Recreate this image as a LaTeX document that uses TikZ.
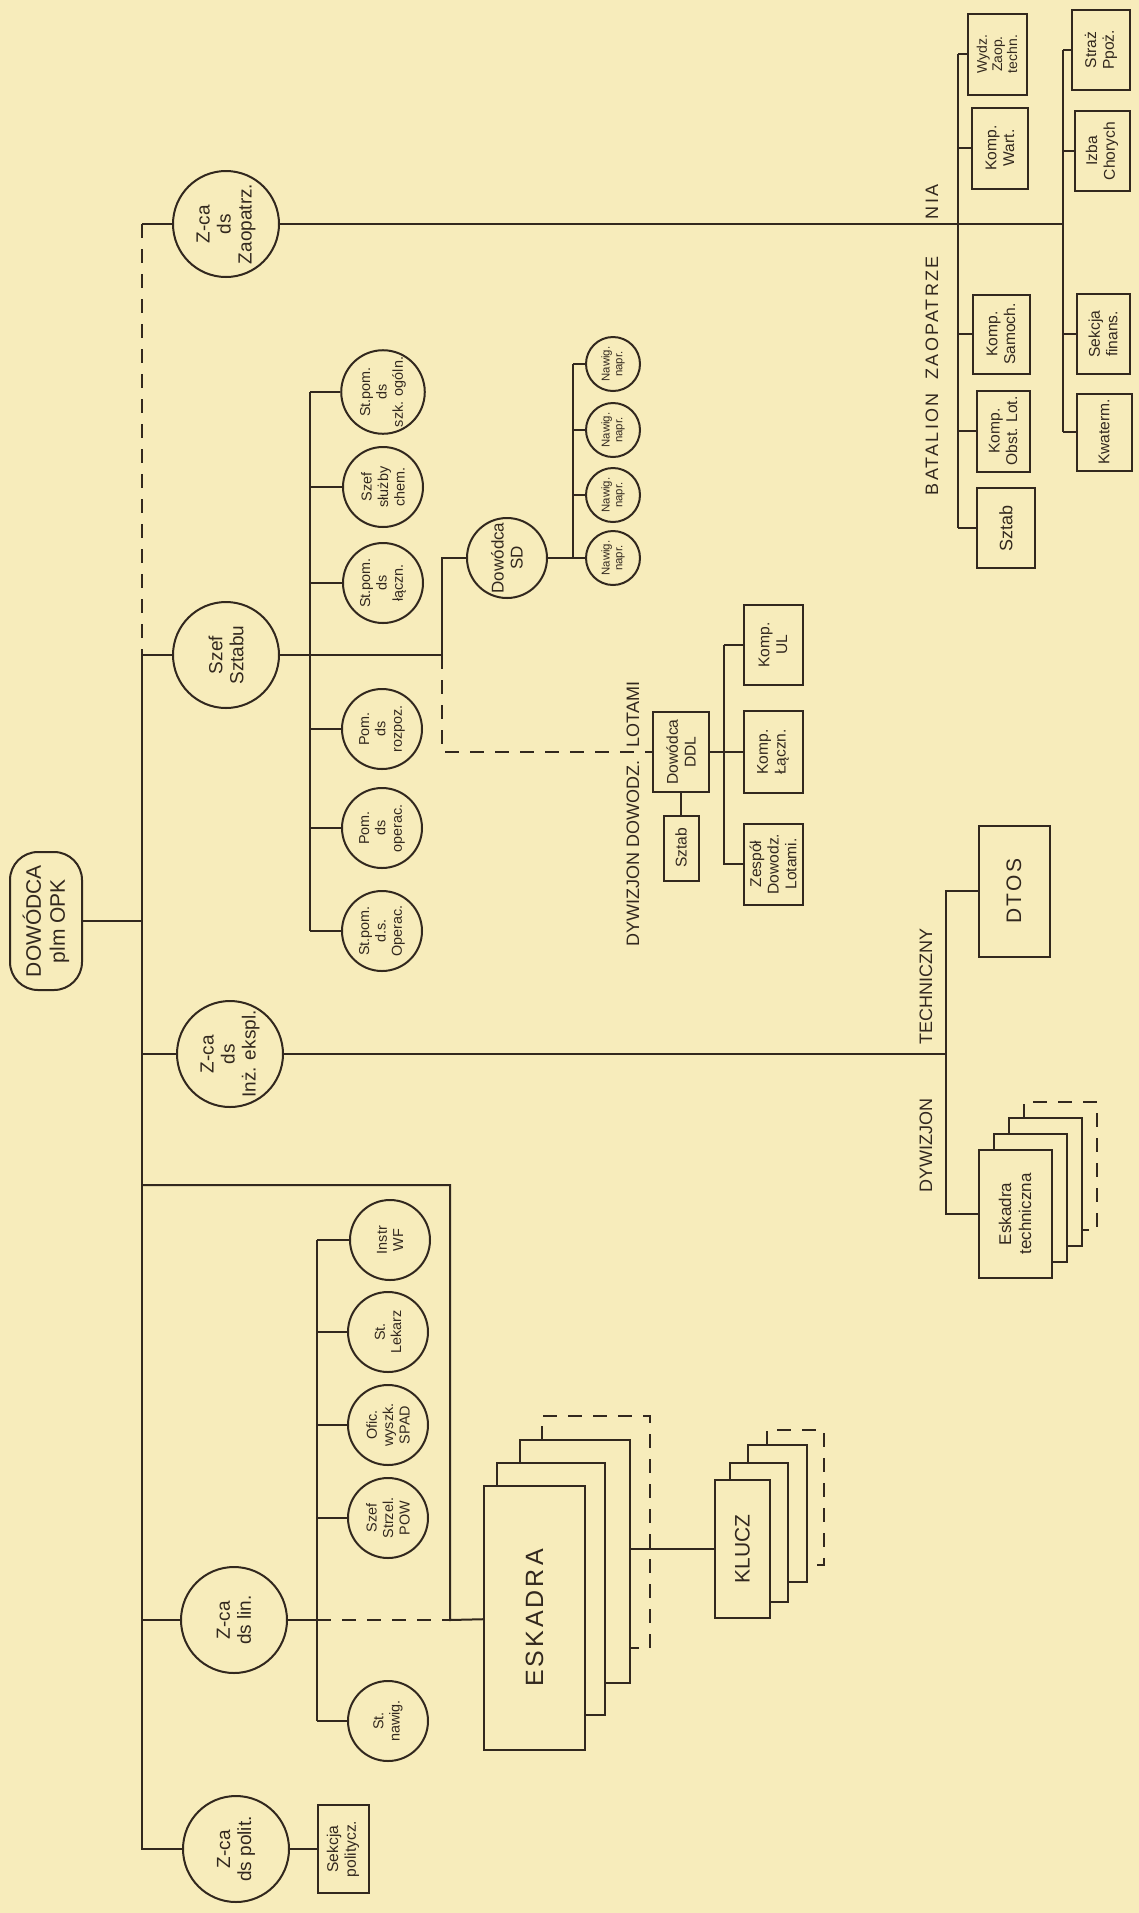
\documentclass[tikz,border=0pt]{standalone}
\usepackage{fontspec}
\setmainfont{Liberation Sans}
\newfontfamily\spcd[LetterSpace=12]{Liberation Sans}
\usetikzlibrary{positioning}
\definecolor{paper}{RGB}{247,236,187}
\definecolor{ink}{RGB}{50,40,30}

\begin{document}
\begin{tikzpicture}[x=0.5pt,y=-0.5pt,line width=1pt,color=ink]
\tikzset{big/.style={circle,draw,minimum size=53pt,inner sep=0pt,align=center,rotate=90,font=\fontsize{9.5}{10.5}\selectfont},
         mid/.style={circle,draw,minimum size=40pt,inner sep=0pt,align=center,rotate=90,font=\fontsize{7.2}{8.2}\selectfont},
         sml/.style={circle,draw,minimum size=27pt,inner sep=0pt,align=center,rotate=90,font=\fontsize{5.7}{6.4}\selectfont},
         bx/.style={rectangle,draw,inner sep=1pt,align=center,rotate=90,font=\fontsize{7.8}{8.8}\selectfont},
         lab/.style={inner sep=0pt,rotate=90,font=\fontsize{9}{10}\selectfont},
         dsh/.style={dash pattern=on 7pt off 5.5pt}}
\fill[paper] (0,0) rectangle (1139,1913);
\useasboundingbox (0,0) rectangle (1139,1913);
\node[bx,rounded corners=14pt,minimum width=69pt,minimum height=36pt,font=\fontsize{10.5}{12}\selectfont] (dow) at (46,921) {DOWÓDCA\\plm OPK};
\node[big] (zaop) at (226,224) {Z-ca\\ds\\Zaopatrz.};
\node[big] (szef) at (226,655) {Szef\\Sztabu};
\node[big] (inz) at (230,1054) {Z-ca\\ds\\Inż. ekspl.};
\node[big] (lin) at (234,1620) {Z-ca\\ds lin.};
\node[big] (polit) at (236,1849) {Z-ca\\ds polit.};
\node[bx,minimum width=44pt,minimum height=25.5pt] (sekp) at (343,1849) {Sekcja\\politycz.};
\coordinate (tk) at (142,224);
\draw (tk) -- (zaop);
\draw[dsh] (tk) -- (tk |- szef);
\draw (tk |- szef) -- (tk |- polit) -- (polit);
\draw (tk |- szef) -- (szef);
\draw (dow) -- (tk |- dow);
\draw (tk |- inz) -- (inz);
\draw (tk |- lin) -- (lin);
\draw (polit) -- (sekp);

\node[mid] (szk) at (383,392) {St.pom.\\ds\\szk. ogóln.};
\node[mid] (chem) at (383,487) {Szef\\służby\\chem.};
\node[mid] (lacz) at (383,583) {St.pom.\\ds\\łączn.};
\node[mid] (rozp) at (382,729) {Pom.\\ds\\rozpoz.};
\node[mid] (oprc) at (382,828) {Pom.\\ds\\operac.};
\node[mid] (stop) at (382,931) {St.pom.\\d.s.\\Operac.};
\coordinate (sb) at (310,392);
\draw (sb) -- (sb |- stop);
\foreach \c in {szk,chem,lacz,rozp,oprc,stop}
  \draw (sb |- \c) -- (\c);

\node[mid,font=\fontsize{8.5}{9.5}\selectfont] (sd) at (507,558) {Dowódca\\SD};
\node[sml] (nv1) at (613,364) {Nawig.\\napr.};
\node[sml] (nv2) at (613,430) {Nawig.\\napr.};
\node[sml] (nv3) at (613,495) {Nawig.\\napr.};
\node[sml] (nv4) at (613,558) {Nawig.\\napr.};
\coordinate (nb) at (573,364);
\draw (nb) -- (nb |- nv4);
\draw (sd) -- (nv4);
\foreach \c in {nv1,nv2,nv3}
  \draw (nb |- \c) -- (\c);

\node[bx,minimum width=40pt,minimum height=28pt] (ddl) at (681,752) {Dowódca\\DDL};
\node[bx,minimum width=32.5pt,minimum height=17.5pt] (ddls) at (681,848) {Sztab};
\node[bx,minimum width=40pt,minimum height=29.5pt] (kul) at (773,645) {Komp.\\UL};
\node[bx,minimum width=41pt,minimum height=29.5pt] (klacz) at (773,752) {Komp.\\Łączn.};
\node[bx,minimum width=40.5pt,minimum height=29.5pt] (zesp) at (773,864) {Zespół\\Dowodz.\\Lotami.};
\coordinate (sdk) at (442,558);
\coordinate (ub) at (724,645);
\draw (szef) -- (sdk |- szef) -- (sdk) -- (sd);
\draw[dsh] (sdk |- szef) -- (sdk |- ddl) -- (ddl);
\draw (ddl) -- (ddls);
\draw (ddl) -- (klacz);
\draw (ub) -- (kul);
\draw (ub) -- (ub |- zesp) -- (zesp);
\node[lab,anchor=west] (dl1) at (633,947) {DYWIZJON DOWODZ.};
\node[lab,anchor=west] (dl2) at (633,748) {LOTAMI};

\node[bx,minimum width=65.5pt,minimum height=35.5pt,font=\spcd\fontsize{10.5}{12}\selectfont] (dtos) at (1014,891) {DTOS};
\node[bx,minimum width=64pt,minimum height=36.5pt,font=\fontsize{8.5}{10}\selectfont] (eskt) at (1015,1214) {Eskadra\\techniczna};
\coordinate (tb) at (946,891);
\draw (inz) -- (tb |- inz);
\draw (dtos) -- (tb) -- (tb |- eskt) -- (eskt);
\foreach \k/\st in {1/solid,2/solid,3/dsh}
  \draw[\st] (979+15*\k,1166-16*\k) -- ++(0,-16) -- ++(73,0) -- ++(0,128) -- ++(-15,0);
\node[lab,anchor=west] (dt1) at (926,1193) {DYWIZJON};
\node[lab,anchor=west] (dt2) at (926,1045) {TECHNICZNY};

\node[bx,minimum width=40.5pt,minimum height=29.5pt,font=\fontsize{7}{7.6}\selectfont] (wydz) at (997,54) {Wydz.\\Zaop.\\techn.};
\node[bx,minimum width=40.5pt,minimum height=28pt] (wart) at (1000,148) {Komp.\\Wart.};
\node[bx,minimum width=39.5pt,minimum height=28.5pt] (samo) at (1001,334) {Komp.\\Samoch.};
\node[bx,minimum width=40.5pt,minimum height=26.5pt] (obst) at (1003,431) {Komp.\\Obst. Lot.};
\node[bx,minimum width=40pt,minimum height=29pt,font=\fontsize{9}{10}\selectfont] (bsz) at (1006,528) {Sztab};
\node[bx,minimum width=40pt,minimum height=29pt] (straz) at (1101,50) {Straż\\Ppoż.};
\node[bx,minimum width=40pt,minimum height=27.5pt] (izba) at (1102,151) {Izba\\Chorych};
\node[bx,minimum width=40pt,minimum height=26.5pt] (sfin) at (1103,334) {Sekcja\\finans.};
\node[bx,minimum width=38.5pt,minimum height=27.5pt] (kwat) at (1104,432) {Kwaterm.};
\coordinate (lb) at (958,54);
\coordinate (rb) at (1063,50);
\draw (zaop) -- (rb |- zaop);
\draw (lb) -- (lb |- bsz);
\foreach \c in {wydz,wart,samo,obst,bsz}
  \draw (lb |- \c) -- (\c);
\draw (rb) -- (rb |- kwat);
\foreach \c in {straz,izba,sfin,kwat}
  \draw (rb |- \c) -- (\c);
\node[lab,anchor=west,font=\spcd\fontsize{9}{10}\selectfont] (bt1) at (932,496) {BATALION\ \ ZAOPATRZE};
\node[lab,anchor=west,font=\spcd\fontsize{9}{10}\selectfont] (bt2) at (932,220) {NIA};

\node[mid] (instr) at (390,1240) {Instr\\WF};
\node[mid] (lek) at (388,1332) {St.\\Lekarz};
\node[mid] (ofic) at (388,1425) {Ofic.\\wyszk.\\SPAD};
\node[mid] (strz) at (388,1518) {Szef\\Strzel.\\POW};
\node[mid] (snaw) at (388,1721) {St.\\nawig.};
\coordinate (nwb) at (317,1240);
\draw (nwb) -- (nwb |- snaw);
\foreach \c in {instr,lek,ofic,strz,snaw}
  \draw (nwb |- \c) -- (\c);
\node[bx,minimum width=132pt,minimum height=50.5pt,font=\spcd\fontsize{12.5}{14}\selectfont] (esk) at (534.5,1618) {ESKADRA};
\node[bx,minimum width=69pt,minimum height=27.5pt,font=\fontsize{10.5}{12}\selectfont] (klucz) at (742.5,1549) {KLUCZ};
\coordinate (ev) at (450,1185);
\coordinate (ek) at (630,1549);
\draw (tk |- ev) -- (ev) -- (ev |- lin) -- (esk);
\draw (lin) -- (nwb |- lin);
\draw[dsh] (nwb |- lin) -- (ev |- lin);
\draw (497,1486) -- (497,1463) -- (605,1463) -- (605,1715) -- (585,1715);
\draw (520,1463) -- (520,1440) -- (630,1440) -- (630,1683) -- (605,1683);
\draw[dsh] (542,1440) -- (542,1416) -- (650,1416) -- (650,1648) -- (630,1648);
\draw (ek) -- (klucz);
\draw (730,1480) -- (730,1463) -- (788,1463) -- (788,1602) -- (770,1602);
\draw (748,1463) -- (748,1445) -- (807,1445) -- (807,1582) -- (788,1582);
\draw[dsh] (767,1445) -- (767,1430) -- (824,1430) -- (824,1565) -- (807,1565);
\end{tikzpicture}
\end{document}
